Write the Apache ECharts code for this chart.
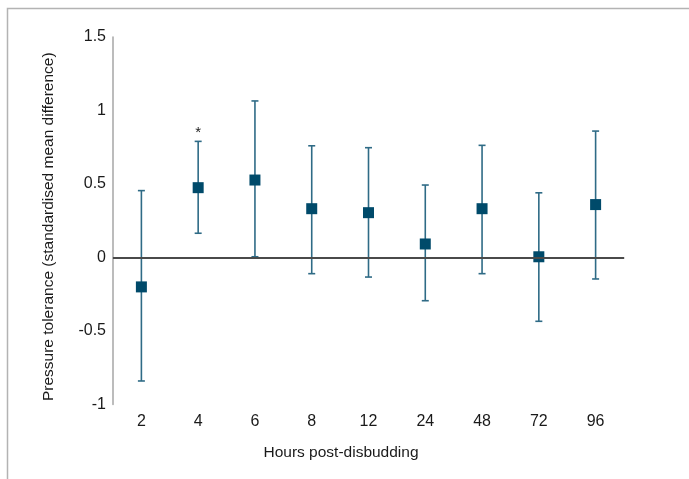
<!DOCTYPE html>
<html>
<head>
<meta charset="utf-8">
<script src="https://cdn.jsdelivr.net/npm/echarts@6/dist/echarts.min.js"></script>
<style>html,body{margin:0;padding:0;background:#fff}#c{width:689px;height:479px}</style>
</head>
<body>
<div id="c"></div>
<script>
const categories = ['2', '4', '6', '8', '12', '24', '48', '72', '96'];
const means = [-0.2, 0.475, 0.527, 0.332, 0.305, 0.092, 0.332, 0.005, 0.36];
const lower = [-0.84, 0.165, 0.005, -0.11, -0.133, -0.294, -0.11, -0.434, -0.146];
const upper = [0.455, 0.79, 1.065, 0.76, 0.747, 0.493, 0.763, 0.44, 0.86];
const significance = ['', '*', '', '', '', '', '', '', ''];
const yMin = -1, yMax = 1.5, yStep = 0.5;

const FONT = "'Liberation Sans Narrow', 'Liberation Sans', Arial, sans-serif";
const chart = echarts.init(document.getElementById('c'));
const errData = categories.map((c, i) => [i, lower[i], upper[i]]);

chart.setOption({
  animation: false,
  backgroundColor: '#fff',
  graphic: [{
    type: 'polyline',
    shape: { points: [[7.5, 479], [7.5, 8.5], [689, 8.5]] },
    style: { stroke: '#b3b3b3', lineWidth: 1.5, fill: null },
    silent: true
  }],
  grid: { left: 113, right: 65, top: 37, bottom: 74.5 },
  xAxis: {
    type: 'category',
    data: categories,
    name: 'Hours post-disbudding',
    nameLocation: 'middle',
    nameGap: 40,
    nameTextStyle: { fontFamily: FONT, fontSize: 15.5, color: '#1a1a1a', padding: [0, 55, 0, 0] },
    axisLine: { lineStyle: { color: '#a6a6a6', width: 1.5 } },
    axisTick: { show: false },
    axisLabel: { fontFamily: FONT, fontSize: 16, color: '#1a1a1a', margin: 9 },
    splitLine: { show: false }
  },
  yAxis: {
    type: 'value',
    min: yMin, max: yMax, interval: yStep,
    name: 'Pressure tolerance (standardised mean difference)',
    nameLocation: 'middle',
    nameGap: 56,
    nameTextStyle: { fontFamily: FONT, fontSize: 15.5, color: '#1a1a1a', padding: [0, 12, 0, 0] },
    axisLine: { show: true, lineStyle: { color: '#a6a6a6', width: 1.5 } },
    axisTick: { show: false },
    axisLabel: { fontFamily: FONT, fontSize: 16, color: '#1a1a1a', margin: 7, padding: [3, 0, 0, 0] },
    splitLine: { show: false }
  },
  series: [
    {
      type: 'custom',
      data: errData,
      z: 3,
      renderItem: function (params, api) {
        const x = api.value(0);
        const lo = api.coord([x, api.value(1)]);
        const hi = api.coord([x, api.value(2)]);
        const cap = 3.5;
        const style = { stroke: '#2f6b86', lineWidth: 1.6 };
        const children = [
          { type: 'line', shape: { x1: lo[0], y1: lo[1], x2: hi[0], y2: hi[1] }, style: style },
          { type: 'line', shape: { x1: lo[0] - cap, y1: lo[1], x2: lo[0] + cap, y2: lo[1] }, style: style },
          { type: 'line', shape: { x1: hi[0] - cap, y1: hi[1], x2: hi[0] + cap, y2: hi[1] }, style: style }
        ];
        const s = significance[params.dataIndex];
        if (s) {
          children.push({
            type: 'text',
            style: { text: s, x: hi[0], y: hi[1] - 1, align: 'center', verticalAlign: 'bottom',
                     fontFamily: FONT, fontSize: 15, fill: '#1a1a1a' }
          });
        }
        return { type: 'group', children: children };
      },
      markLine: {
        silent: true,
        symbol: 'none',
        label: { show: false },
        lineStyle: { color: '#4a4a4a', width: 2, type: 'solid' },
        data: [{ yAxis: 0 }]
      }
    },
    {
      type: 'scatter',
      data: means,
      symbol: 'rect',
      symbolSize: 11,
      z: 4,
      itemStyle: { color: '#004a6a', opacity: 1 }
    }
  ]
});
</script>
</body>
</html>
